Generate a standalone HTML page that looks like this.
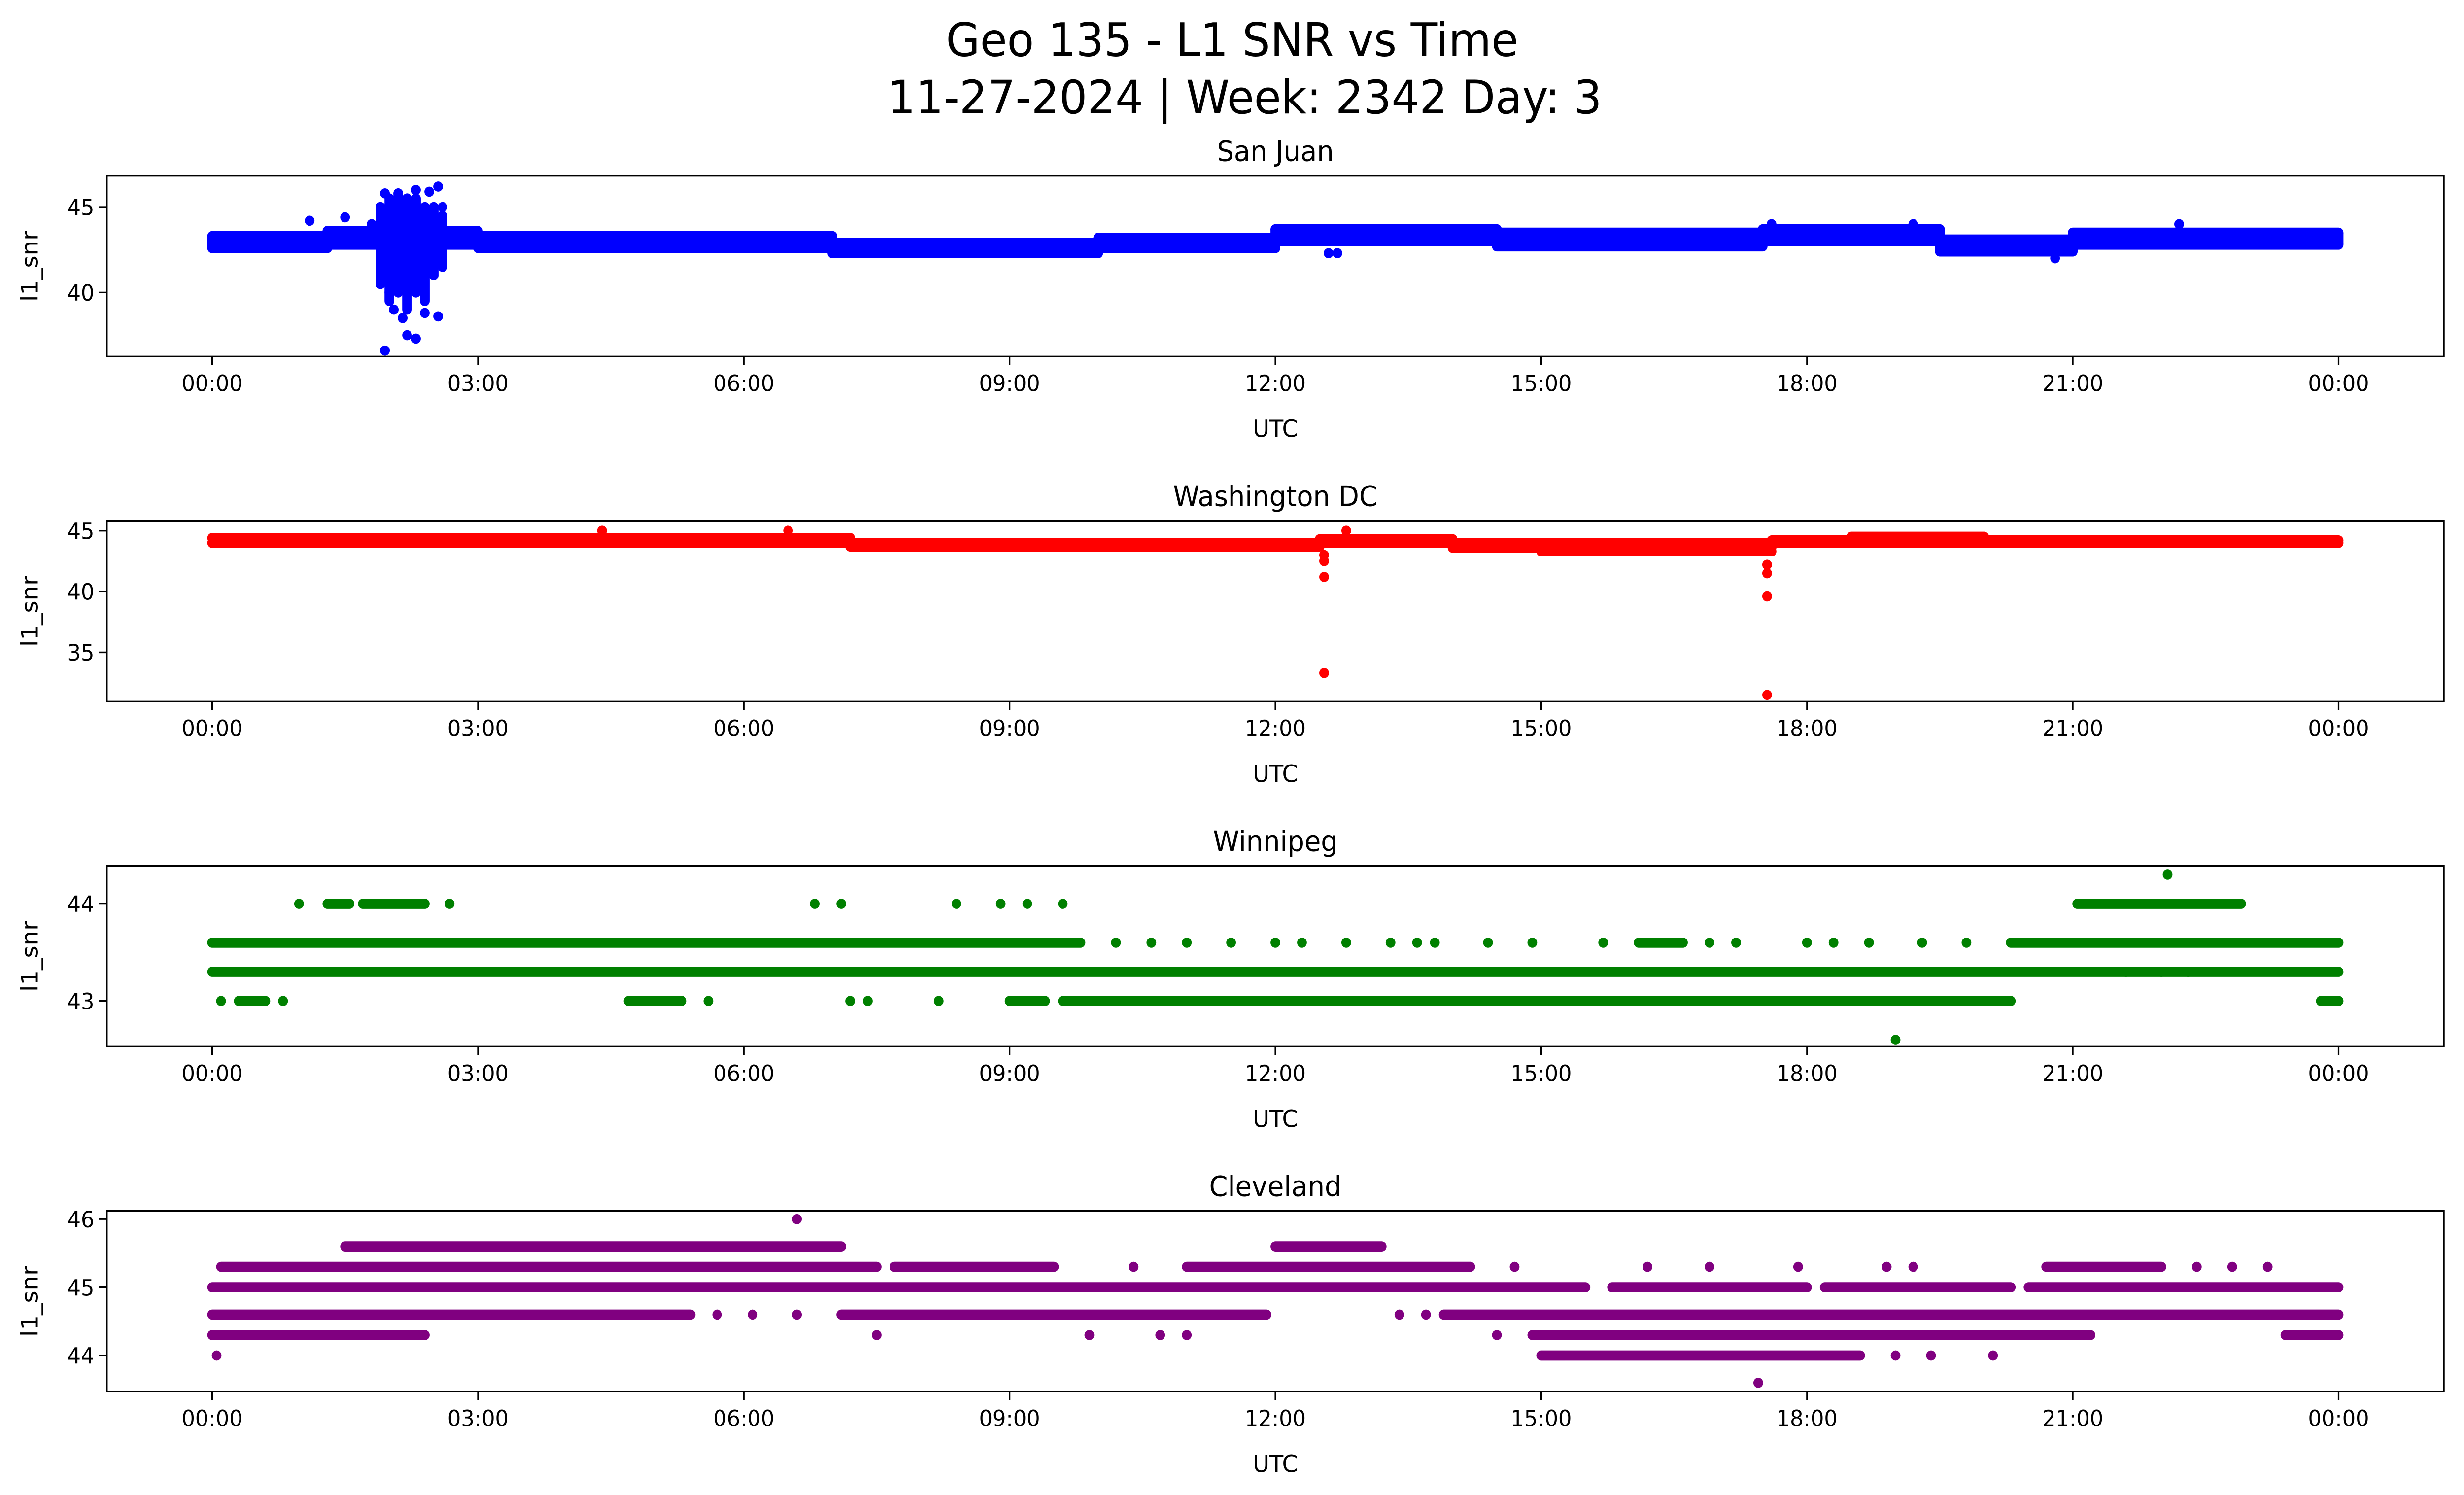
<!DOCTYPE html>
<html><head><meta charset="utf-8">
<style>html,body{margin:0;padding:0;background:#fff;overflow:hidden;width:100vw;height:100vh}svg{display:block;width:100vw;height:100vh}</style>
</head><body>
<svg id="chart" xmlns="http://www.w3.org/2000/svg" viewBox="0 0 1567.8 909.9" preserveAspectRatio="none" font-family="DejaVu Sans, Liberation Sans, sans-serif">
<rect width="1567.8" height="909.9" fill="#fff"/>
<text x="784" y="34" font-size="28" text-anchor="middle">Geo 135 - L1 SNR vs Time</text>
<text x="792" y="69" font-size="28" text-anchor="middle">11-27-2024 | Week: 2342 Day: 3</text>
</svg>
<script>
// ---- data (hours UTC, SNR values) ----
const xTickLabels = ["00:00","03:00","06:00","09:00","12:00","15:00","18:00","21:00","00:00"];
const stations = ["San Juan","Washington DC","Winnipeg","Cleveland"];
const colors = ["#0000ff","#ff0000","#008000","#800080"];
// runs: [startHour, endHour, value]
const sanJuanRuns = [[0,1.3,43.3],[0,1.3,42.6],[1.3,3,43.6],[1.3,3,42.8],[3,7,42.6],[3,7,43.3],[7,10,42.3],[7,10,42.9],[10,12,42.6],[10,12,43.2],[12,14.5,43.7],[12,14.5,43.0],[14.5,17.5,43.5],[14.5,17.5,42.7],[17.5,19.5,43.7],[17.5,19.5,43.0],[19.5,21,43.1],[19.5,21,42.4],[21,24,43.5],[21,24,42.8]];
const sanJuanPoints = [[1.95,36.6],[2.2,37.5],[2.3,37.3],[2.05,39],[2.15,38.5],[2.4,38.8],[2.55,38.6],[2.0,40],[2.1,45.8],[2.3,46],[2.55,46.2],[2.2,45.5],[2.0,44.5],[2.4,44.8],[1.8,44.0],[2.35,40.5],[2.1,41],[2.6,45],[1.95,45.8],[2.45,45.9],[12.6,42.3],[12.7,42.3],[20.8,42.0],[22.2,44.0],[19.2,44.0],[17.6,44.0],[1.1,44.2],[1.5,44.4]];
// vertical spreads: [hour, minValue, maxValue]
const sanJuanSpreads = [[1.9,40.5,45],[2.0,39.5,45.5],[2.1,40,45.8],[2.2,39,45.5],[2.3,40,45.5],[2.4,39.5,45],[2.5,41,45],[2.6,41.5,44.5]];
const dcRuns = [[0,7.2,44.4],[0,24,44.0],[7.2,12.5,43.7],[12.5,14,44.3],[14,17.6,43.6],[15,17.6,43.3],[17.6,24,44.2],[18.5,20,44.5]];
const dcPoints = [[12.55,33.3],[12.55,41.2],[12.55,42.5],[12.55,43],[17.55,31.5],[17.55,39.6],[17.55,41.5],[17.55,42.2],[4.4,45],[6.5,45],[12.8,45]];
const dcSpreads = [];
const winRuns = [[0,9.8,43.6],[20.3,24,43.6],[0,24,43.3],[9.6,20.3,43.0],[21.05,22.9,44.0],[1.3,1.55,44.0],[1.7,2.4,44.0],[16.1,16.6,43.6],[23.8,24,43.0],[0.3,0.6,43.0],[4.7,5.3,43.0],[9.0,9.4,43.0]];
const winPoints = [[0.98,44],[2.68,44],[6.8,44],[7.1,44],[8.4,44],[8.9,44],[9.2,44],[9.6,44],[22.07,44.3],[19.0,42.6],[0.1,43],[0.8,43],[5.6,43],[7.2,43],[7.4,43],[8.2,43],[10.2,43.6],[10.6,43.6],[11,43.6],[11.5,43.6],[12,43.6],[12.3,43.6],[12.8,43.6],[13.3,43.6],[13.6,43.6],[13.8,43.6],[14.4,43.6],[14.9,43.6],[15.7,43.6],[16.9,43.6],[17.2,43.6],[18,43.6],[18.3,43.6],[18.7,43.6],[19.3,43.6],[19.8,43.6],[21.6,43.3],[22,43.3],[22.3,43.3]];
const winSpreads = [];
const clevRuns = [[0.1,7.5,45.3],[7.7,9.5,45.3],[11,14.2,45.3],[20.7,22,45.3],[1.5,7.1,45.6],[12,13.2,45.6],[0,15.5,45.0],[15.8,18,45.0],[18.2,20.3,45.0],[20.5,24,45.0],[0,5.4,44.6],[7.1,11.9,44.6],[13.9,24,44.6],[0,2.4,44.3],[14.9,21.2,44.3],[23.4,24,44.3],[15,18.6,44.0]];
const clevPoints = [[10.4,45.3],[14.7,45.3],[16.2,45.3],[16.9,45.3],[17.9,45.3],[18.9,45.3],[19.2,45.3],[22.4,45.3],[22.8,45.3],[23.2,45.3],[5.7,44.6],[6.1,44.6],[6.6,44.6],[13.4,44.6],[13.7,44.6],[7.5,44.3],[9.9,44.3],[10.7,44.3],[11,44.3],[14.5,44.3],[0.05,44.0],[19,44.0],[19.4,44.0],[20.1,44.0],[6.6,46.0],[17.45,43.6]];
const clevSpreads = [];
const yTicks = [[40,45],[35,40,45],[43,44],[44,45,46]];
const yRanges = [[36.25,46.83],[30.95,45.81],[42.53,44.39],[43.47,46.12]];
const allRuns = [sanJuanRuns, dcRuns, winRuns, clevRuns];
const allPoints = [sanJuanPoints, dcPoints, winPoints, clevPoints];
const allSpreads = [sanJuanSpreads, dcSpreads, winSpreads, clevSpreads];

// ---- layout ----
const NS = "http://www.w3.org/2000/svg";
const svg = document.getElementById('chart');
const AX_L = 68, AX_R = 1555, X0 = 135, X24 = 1488;
const tops = [107, 317, 527, 737], H = 110, R = 3.1;
function mk(tag, attrs, parent) {
  const e = document.createElementNS(NS, tag);
  for (const k in attrs) e.setAttribute(k, attrs[k]);
  parent.appendChild(e);
  return e;
}
const xScale = h => X0 + (X24 - X0) * h / 24;

stations.forEach((name, i) => {
  const top = tops[i], bot = top + H;
  const [ymin, ymax] = yRanges[i];
  const yScale = v => bot - (v - ymin) / (ymax - ymin) * H;
  const g = mk('g', {}, svg);
  
  
  const clipId = 'clip' + i;
  const cp = mk('clipPath', {id: clipId}, g);
  mk('rect', {x: AX_L, y: top, width: AX_R - AX_L, height: H}, cp);
  const marks = mk('g', {'clip-path': 'url(#' + clipId + ')', fill: colors[i], stroke: colors[i]}, g);
  
  
  allRuns[i].forEach(r => {
    const l = mk('line', {x1: xScale(r[0]), x2: xScale(r[1]), y1: yScale(r[2]), y2: yScale(r[2]), 'stroke-width': 2 * R, 'stroke-linecap': 'round'}, marks);
    
    
  });
  // fill between paired runs (band of dense points) for San Juan style data
  if (i === 0) {
    for (let k = 0; k + 1 < allRuns[i].length; k += 2) {
      const a = allRuns[i][k], b = allRuns[i][k + 1];
      const y1 = yScale(Math.max(a[2], b[2])), y2 = yScale(Math.min(a[2], b[2]));
      const rc = mk('rect', {x: xScale(a[0]) - R, y: y1, width: xScale(a[1]) - xScale(a[0]) + 2 * R, height: y2 - y1, stroke: 'none'}, marks);
      
      
    }
  }
  allSpreads[i].forEach(s => {
    const l = mk('line', {x1: xScale(s[0]), x2: xScale(s[0]), y1: yScale(s[1]), y2: yScale(s[2]), 'stroke-width': 2 * R, 'stroke-linecap': 'round'}, marks);
    
    
  });
  allPoints[i].forEach(p => {
    const c = mk('circle', {cx: xScale(p[0]), cy: yScale(p[1]), r: R, stroke: 'none'}, marks);
    
    
  });
  const frame = mk('rect', {x: AX_L, y: top, width: AX_R - AX_L, height: H, fill: 'none', stroke: '#000', 'stroke-width': 1}, g);
  
  
  xTickLabels.forEach((lab, k) => {
    const x = xScale(k * 3);
    mk('line', {x1: x, x2: x, y1: bot, y2: bot + 5, stroke: '#000', 'stroke-width': 1}, g);
    const t = mk('text', {x: x, y: bot + 21, 'font-size': 13.5, 'text-anchor': 'middle'}, g);
    t.textContent = lab;
    
    
  });
  yTicks[i].forEach(v => {
    const y = yScale(v);
    mk('line', {x1: AX_L - 5, x2: AX_L, y1: y, y2: y, stroke: '#000', 'stroke-width': 1}, g);
    const t = mk('text', {x: AX_L - 8, y: y + 5, 'font-size': 13.5, 'text-anchor': 'end'}, g);
    t.textContent = v;
    
    
  });
  const xt = mk('text', {x: (AX_L + AX_R) / 2, y: bot + 49, 'font-size': 14.5, 'text-anchor': 'middle'}, g);
  xt.textContent = 'UTC';
  
  
  const yt = mk('text', {x: 0, y: 0, 'font-size': 14.5, 'text-anchor': 'middle', transform: 'translate(24,' + (top + H / 2) + ') rotate(-90)'}, g);
  yt.textContent = 'l1_snr';
  
  
  const st = mk('text', {x: (AX_L + AX_R) / 2, y: top - 9, 'font-size': 17, 'text-anchor': 'middle'}, g);
  st.textContent = name;
  
  
});
</script>
</body></html>
